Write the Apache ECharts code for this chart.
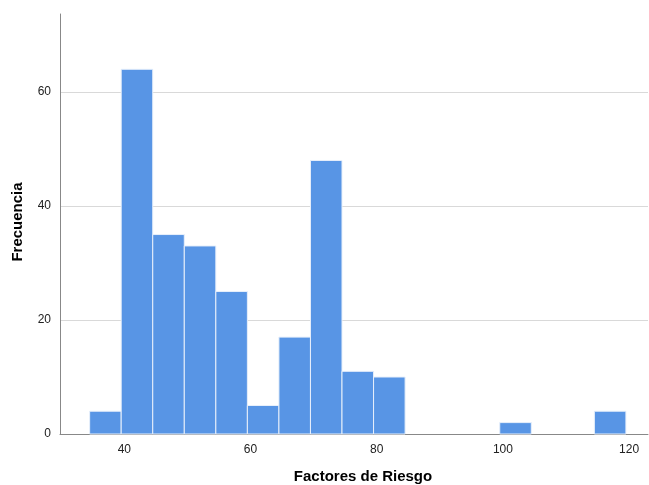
<!DOCTYPE html>
<html><head><meta charset="utf-8">
<script src="https://cdn.jsdelivr.net/npm/echarts@6/dist/echarts.min.js"></script>
<style>html,body{margin:0;padding:0;background:#fff}#c{width:649px;height:485px}</style>
</head><body><div id="c"></div>
<script>
const binStarts = [34.5, 39.5, 44.5, 49.5, 54.5, 59.5, 64.5, 69.5, 74.5, 79.5, 99.5, 114.5];
const binWidth = 5;
const frequencies = [4, 64, 35, 33, 25, 5, 17, 48, 11, 10, 2, 4];
const xTicks = [40, 60, 80, 100, 120];
const yTicks = [0, 20, 40, 60];
const xTitle = 'Factores de Riesgo';
const yTitle = 'Frecuencia';

const data = binStarts.map((s, i) => [s, s + binWidth, frequencies[i]]);
const chart = echarts.init(document.getElementById('c'), null, {renderer: 'canvas'});
const font = 'Liberation Sans, Arial, sans-serif';
chart.setOption({
  animation: false,
  grid: {left: 60, right: 1, top: 14, bottom: 51, containLabel: false},
  xAxis: {
    type: 'value', min: 29.8, max: 123,
    axisLine: {show: true, lineStyle: {color: '#888', width: 1}},
    axisTick: {show: false},
    splitLine: {show: false},
    axisLabel: {customValues: xTicks, color: '#222', fontFamily: font, fontSize: 12, margin: 10}
  },
  yAxis: {
    type: 'value', min: 0, max: 73.7, interval: 20,
    axisLine: {show: true, lineStyle: {color: '#888', width: 1}},
    axisTick: {show: false},
    splitLine: {show: true, showMinLine: false, showMaxLine: false, lineStyle: {color: '#d9d9d9', width: 1}},
    axisLabel: {customValues: yTicks, color: '#222', fontFamily: font, fontSize: 12, margin: 9}
  },
  graphic: [
    {type: 'text', x: 363, y: 477, style: {text: xTitle, align: 'center', verticalAlign: 'middle', font: 'bold 15px Liberation Sans, Arial, sans-serif', fill: '#000'}},
    {type: 'text', rotation: Math.PI / 2, x: 18, y: 222, style: {text: yTitle, align: 'center', verticalAlign: 'middle', font: 'bold 15px Liberation Sans, Arial, sans-serif', fill: '#000'}}
  ],
  series: [{
    type: 'custom',
    data: data,
    encode: {x: [0, 1], y: 2},
    renderItem: function (params, api) {
      const p0 = api.coord([api.value(0), 0]);
      const p1 = api.coord([api.value(1), api.value(2)]);
      return {
        type: 'rect',
        shape: {x: p0[0], y: p1[1], width: p1[0] - p0[0], height: p0[1] - p1[1]},
        style: {fill: '#5895E5', stroke: '#e8f0fb', lineWidth: 1}
      };
    }
  }]
});
</script></body></html>
